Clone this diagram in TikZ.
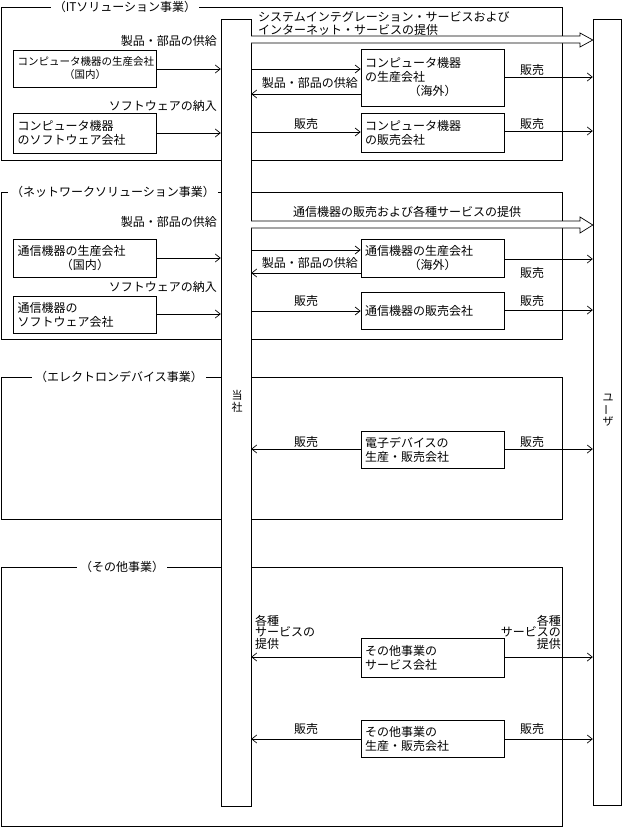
\documentclass[tikz,border=0pt]{standalone}
\usepackage{fontspec}
\usepackage{graphicx}
\setmainfont{Noto Sans CJK JP}
\usetikzlibrary{arrows.meta}
\begin{document}
\begin{tikzpicture}[x=1pt,y=-1pt,
  every node/.style={font=\fontsize{12}{14}\selectfont},
  frame/.style={draw, line width=0.7pt},
  frametitle/.style={fill=white, inner xsep=3pt, inner ysep=1pt},
  bar/.style={draw, fill=white, line width=0.8pt},
  company/.style={draw, fill=white, line width=0.7pt, align=left, inner xsep=4pt, inner ysep=1pt, text width=135pt, minimum height=#1},
  lbl/.style={inner sep=0pt},
  arr/.style={-{Straight Barb[length=5pt,width=8pt]}, line width=0.7pt},
  hollow/.style={draw, fill=white, line width=0.7pt, line join=miter}
]
\useasboundingbox (0,0) rectangle (624,827);

% section frames
\draw[frame] (1,7) rectangle (562,160);
\draw[frame] (1,192) rectangle (562,339);
\draw[frame] (1,377) rectangle (562,519);
\draw[frame] (1,567) rectangle (562,826);
\node[frametitle] (t1) at (125,7) {（ITソリューション事業）};
\node[frametitle] (t2) at (113,192) {（ネットワークソリューション事業）};
\node[frametitle] (t3) at (119,377) {（エレクトロンデバイス事業）};
\node[frametitle] (t4) at (122,567) {（その他事業）};

% bars
\path[bar] (221,19) rectangle (251,806);
\node[inner sep=0pt, minimum width=30pt, minimum height=787pt] (tosha) at (236,412.5) {};
\path[bar] (593,19) rectangle (621,805);
\node[inner sep=0pt, minimum width=28pt, minimum height=786pt] (user) at (607,412) {};
\node[lbl, align=center, font=\fontsize{11}{12}\selectfont] (toshaL) at (237,401) {当\\社};
\node[lbl, align=center, font=\fontsize{11}{11}\selectfont] (userL) at (608,410) {ユ\\\rotatebox[origin=c]{90}{ー}\\ザ};

% IT section
\node[company=37pt, font=\fontsize{10.5}{13}\selectfont] (itA) at (85,68.5) {コンピュータ機器の生産会社\\\makebox[\linewidth]{（国内）}};
\node[company=40pt] (itB) at (85,133) {コンピュータ機器\\のソフトウェア会社};
\node[company=57pt] (itC) at (432.5,77.5) {コンピュータ機器\\の生産会社\\\makebox[\linewidth]{（海外）}};
\node[company=39pt] (itD) at (432.5,132.5) {コンピュータ機器\\の販売会社};

\draw[arr] (itA.east |- 0,69) -- (tosha.west |- 0,69);
\draw[arr] (itB.east) -- (itB.east -| tosha.west);
\draw[arr] (tosha.east |- 0,69) -- (itC.west |- 0,69);
\draw[arr] (itC.west |- 0,94) -- (tosha.east |- 0,94);
\draw[arr] (itC.east |- 0,77) -- (user.west |- 0,77);
\draw[arr] (tosha.east |- 0,132) -- (itD.west |- 0,132);
\draw[arr] (itD.east |- 0,131) -- (user.west |- 0,131);
\draw[hollow] (tosha.east |- 0,36) -- (580,36) -- (580,33) -- (user.west |- 0,40) -- (580,47) -- (580,43) -- (tosha.east |- 0,43);

\node[lbl, anchor=east] (l1) at (217,41) {製品・部品の供給};
\node[lbl, anchor=east] (l2) at (217,106) {ソフトウェアの納入};
\node[lbl, anchor=west, align=left, font=\fontsize{12}{13}\selectfont] (l3) at (258,23.5) {システムインテグレーション・サービスおよび\\インターネット・サービスの提供};
\node[lbl, anchor=east] (l4) at (358,83) {製品・部品の供給};
\node[lbl] (l5) at (532,70) {販売};
\node[lbl] (l6) at (306,124) {販売};
\node[lbl] (l7) at (532,124) {販売};

% network section
\node[company=38pt] (nwA) at (85,258) {通信機器の生産会社\\\makebox[\linewidth]{（国内）}};
\node[company=37pt] (nwB) at (85,314.5) {通信機器の\\ソフトウェア会社};
\node[company=38pt] (nwC) at (432.5,258) {通信機器の生産会社\\\makebox[\linewidth]{（海外）}};
\node[company=37pt] (nwD) at (432.5,310.5) {通信機器の販売会社};

\draw[arr] (nwA.east) -- (nwA.east -| tosha.west);
\draw[arr] (nwB.east |- 0,314) -- (tosha.west |- 0,314);
\draw[arr] (tosha.east |- 0,250) -- (nwC.west |- 0,250);
\draw[arr] (nwC.west |- 0,273) -- (tosha.east |- 0,273);
\draw[arr] (nwC.east |- 0,259) -- (user.west |- 0,259);
\draw[arr] (tosha.east |- 0,311) -- (nwD.west |- 0,311);
\draw[arr] (nwD.east |- 0,310) -- (user.west |- 0,310);
\draw[hollow] (tosha.east |- 0,221) -- (580,221) -- (580,217) -- (user.west |- 0,225) -- (580,233) -- (580,228) -- (tosha.east |- 0,228);

\node[lbl, anchor=east] (n1) at (217,222) {製品・部品の供給};
\node[lbl, anchor=east] (n2) at (217,287) {ソフトウェアの納入};
\node[lbl] (n3) at (407,212) {通信機器の販売および各種サービスの提供};
\node[lbl, anchor=east] (n4) at (358,263) {製品・部品の供給};
\node[lbl] (n5) at (532,273) {販売};
\node[lbl] (n6) at (306,301) {販売};
\node[lbl] (n7) at (532,301) {販売};

% electron device section
\node[company=37pt] (edA) at (432.5,449.5) {電子デバイスの\\生産・販売会社};
\draw[arr] (edA.west |- 0,449) -- (tosha.east |- 0,449);
\draw[arr] (edA.east |- 0,449) -- (user.west |- 0,449);
\node[lbl] (e1) at (306,442) {販売};
\node[lbl] (e2) at (532,442) {販売};

% other section
\node[company=39pt] (otA) at (432.5,657.5) {その他事業の\\サービス会社};
\node[company=37pt] (otB) at (432.5,738.5) {その他事業の\\生産・販売会社};
\draw[arr] (otA.west |- 0,657) -- (tosha.east |- 0,657);
\draw[arr] (otA.east |- 0,657) -- (user.west |- 0,657);
\draw[arr] (otB.west |- 0,739) -- (tosha.east |- 0,739);
\draw[arr] (otB.east |- 0,739) -- (user.west |- 0,739);
\node[lbl, anchor=west, align=left, font=\fontsize{12}{11.5}\selectfont] (o1) at (255,632) {各種\\サービスの\\提供};
\node[lbl, anchor=east, align=right, font=\fontsize{12}{11.5}\selectfont] (o2) at (561,632) {各種\\サービスの\\提供};
\node[lbl] (o3) at (306,729) {販売};
\node[lbl] (o4) at (532,729) {販売};
\end{tikzpicture}
\end{document}
